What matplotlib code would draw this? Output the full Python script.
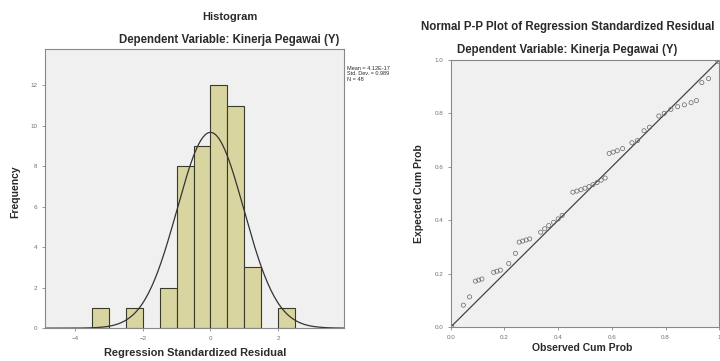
"""SPSS-style residual diagnostics: histogram and normal P-P plot."""

import matplotlib
matplotlib.use("Agg")
import matplotlib.pyplot as plt
import numpy as np

# Histogram data
bin_left = [-3.5, -2.5, -1.5, -1.0, -0.5, 0.0, 0.5, 1.0, 2.0]
bin_freq = [1, 1, 2, 8, 9, 12, 11, 3, 1]
bin_width = 0.5
res_mean = 4.12e-17
res_std = 0.989
n_obs = 48

# P-P plot data
observed_cum = [
    0.004, 0.047, 0.070, 0.092, 0.104, 0.116, 0.160, 0.172, 0.185, 0.216,
    0.241, 0.255, 0.268, 0.281, 0.294, 0.335, 0.350, 0.365, 0.383, 0.400,
    0.415, 0.455, 0.470, 0.485, 0.500, 0.515, 0.530, 0.545, 0.560, 0.575,
    0.590, 0.605, 0.620, 0.640, 0.675, 0.695, 0.720, 0.740, 0.775, 0.795,
    0.820, 0.845, 0.870, 0.895, 0.915, 0.935, 0.960, 0.995,
]
expected_cum = [
    0.001, 0.082, 0.113, 0.172, 0.176, 0.180, 0.205, 0.209, 0.213, 0.238,
    0.276, 0.318, 0.322, 0.326, 0.330, 0.355, 0.368, 0.380, 0.392, 0.405,
    0.418, 0.505, 0.509, 0.514, 0.520, 0.526, 0.533, 0.541, 0.550, 0.558,
    0.650, 0.655, 0.660, 0.668, 0.690, 0.698, 0.735, 0.748, 0.790, 0.800,
    0.815, 0.825, 0.832, 0.840, 0.848, 0.915, 0.930, 0.995,
]

plot_bg = "#f0f0f0"
bar_color = "#d9d5a0"
text_color = "#2a2a2a"
tick_color = "#707070"

plt.rcParams["font.family"] = ["Liberation Sans", "DejaVu Sans"]

fig = plt.figure(figsize=(7.2, 3.61), dpi=100)
fig.patch.set_facecolor("white")

title_kw = dict(ha="center", va="center", fontweight="bold", color=text_color)

# --- Histogram ---
ax = fig.add_axes([0.0625, 0.091, 0.415, 0.773])
ax.set_facecolor(plot_bg)
ax.bar(
    bin_left,
    bin_freq,
    width=bin_width,
    align="edge",
    color=bar_color,
    edgecolor="#3a3a2a",
    linewidth=0.8,
)
xs = np.linspace(-4.9, 3.95, 300)
curve = n_obs * bin_width / (res_std * np.sqrt(2 * np.pi)) * np.exp(
    -0.5 * ((xs - res_mean) / res_std) ** 2
)
ax.plot(xs, curve, color="#333333", linewidth=0.9)
ax.set_xlim(-4.9, 3.95)
ax.set_ylim(0, 13.8)
ax.set_xticks([-4, -2, 0, 2])
ax.set_yticks([0, 2, 4, 6, 8, 10, 12])
ax.tick_params(labelsize=4.5, colors=tick_color, length=2, width=0.5)
for s in ax.spines.values():
    s.set_color("#888888")
    s.set_linewidth(0.8)
ax.text(
    1.01, 0.94,
    f"Mean = 4.12E-17\nStd. Dev. = {res_std:.3f}\nN = {n_obs}",
    transform=ax.transAxes, fontsize=4, color=text_color,
    va="top", ha="left", linespacing=1.1,
)

fig.text(0.319, 0.953, "Histogram", fontsize=8, **title_kw)
fig.text(0.319, 0.889, "Dependent Variable: Kinerja Pegawai (Y)",
         fontsize=8.3, **title_kw)
fig.text(0.271, 0.022, "Regression Standardized Residual", fontsize=7.9,
         **title_kw)
fig.text(0.021, 0.47, "Frequency", rotation=90, fontsize=7.5, **title_kw)

# --- Normal P-P plot ---
ax2 = fig.add_axes([0.626, 0.094, 0.373, 0.740])
ax2.set_facecolor(plot_bg)
ax2.plot([0, 1], [0, 1], color="#444444", linewidth=0.9)
ax2.scatter(
    observed_cum, expected_cum, s=9, facecolors="none",
    edgecolors="#666666", linewidths=0.5, zorder=3,
)
ax2.set_xlim(0, 1)
ax2.set_ylim(0, 1)
ax2.set_xticks([0, 0.2, 0.4, 0.6, 0.8, 1.0])
ax2.set_xticklabels(["0.0", "0.2", "0.4", "0.6", "0.8", "1"])
ax2.set_yticks([0, 0.2, 0.4, 0.6, 0.8, 1.0])
ax2.set_yticklabels(["0.0", "0.2", "0.4", "0.6", "0.8", "1.0"])
ax2.tick_params(labelsize=4.5, colors=tick_color, length=2, width=0.5)
for s in ax2.spines.values():
    s.set_color("#888888")
    s.set_linewidth(0.8)

fig.text(0.788, 0.925, "Normal P-P Plot of Regression Standardized Residual",
         fontsize=8.3, **title_kw)
fig.text(0.788, 0.862, "Dependent Variable: Kinerja Pegawai (Y)",
         fontsize=8.3, **title_kw)
fig.text(0.809, 0.035, "Observed Cum Prob", fontsize=7.5, **title_kw)
fig.text(0.582, 0.465, "Expected Cum Prob", rotation=90, fontsize=7.5,
         **title_kw)

fig.savefig("out.png", dpi=100, facecolor="white")
